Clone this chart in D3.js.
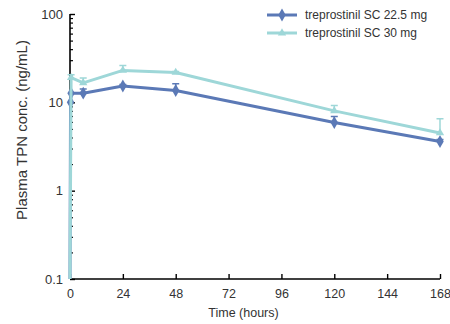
<!DOCTYPE html>
<html>
<head>
<meta charset="utf-8">
<script src="https://cdn.jsdelivr.net/npm/d3@7"></script>
<style>
	body { margin: 0; background: #fff; }
	text { font-family: "Liberation Sans", Arial, sans-serif; fill: #333; }
</style>
</head>
<body>
<svg id="pk_chart"></svg>
<script>
// time points (hours) and concentrations (ng/mL)
var times_low = [0, 0.25, 0.5, 6, 24, 48, 120, 168];
var conc_low = [0.1, 10, 12.7, 12.7, 15.3, 13.6, 5.9, 3.6];
var err_low = [0.1, 10, 12.7, 14.2, 15.9, 16.2, 6.9, 3.8];

var times_high = [0, 0.5, 6, 24, 48, 120, 168];
var conc_high = [0.1, 19, 16.6, 23, 21.8, 8.0, 4.5];
var err_high = [0.1, 20.5, 18.9, 26.2, 22.3, 9.2, 6.5];

var series_names = ["treprostinil SC 22.5 mg", "treprostinil SC 30 mg"];
var series_colors = ["#5b79b6", "#9ed7d8"];

var x_ticks = [0, 24, 48, 72, 96, 120, 144, 168];
var y_ticks = [0.1, 1, 10, 100];

function draw_chart(){
	var margin = {top: 14, right: 10, bottom: 45, left: 70},
		width = 450 - margin.left - margin.right,
		height = 324 - margin.top - margin.bottom;

	var svg = d3.select("#pk_chart")
		.attr("width", width + margin.left + margin.right)
		.attr("height", height + margin.top + margin.bottom)
		.append("g")
		.attr("transform", "translate(" + margin.left + "," + margin.top + ")");

	// set the ranges
	var x = d3.scaleLinear()
		.domain([0, 168])
		.range([0, width]);
	var y = d3.scaleLog()
		.domain([0.1, 100])
		.range([height, 0]);

	// minor log ticks (2..9 in each decade)
	var minor = y.ticks().filter(function(d) { return y_ticks.indexOf(d) < 0; });

	svg.append("g")
		.attr("class", "y_minor")
		.call(d3.axisRight(y).tickValues(minor).tickSize(3).tickFormat(""))
		.call(function(g) { g.select(".domain").remove(); })
		.selectAll("line").attr("stroke", "#000").attr("stroke-width", 1.2);

	// y axis, ticks pointing inward
	var yAxis = svg.append("g")
		.attr("class", "y_axis")
		.call(d3.axisRight(y).tickValues(y_ticks).tickSize(5).tickFormat(d3.format("")));
	yAxis.selectAll("text")
		.attr("x", -7)
		.attr("text-anchor", "end")
		.style("font-size", "13px");
	yAxis.select(".domain").attr("d", "M0,0V" + height).attr("stroke", "#000").attr("stroke-width", 1.6);
	yAxis.selectAll("line").attr("stroke-width", 1.4);

	// x axis, ticks pointing up
	var xAxis = svg.append("g")
		.attr("class", "x_axis")
		.attr("transform", "translate(0," + height + ")")
		.call(d3.axisTop(x).tickValues(x_ticks).tickSize(5));
	xAxis.selectAll("text")
		.attr("y", 19)
		.style("font-size", "12.5px");
	xAxis.select(".domain").attr("d", "M0,0H" + width).attr("stroke", "#000").attr("stroke-width", 1.6);
	xAxis.selectAll("line").attr("stroke-width", 1.4);

	var datasets = [
		{t: times_low, c: conc_low, e: err_low, marker: d3.symbolDiamond, size: 48},
		{t: times_high, c: conc_high, e: err_high, marker: d3.symbolTriangle, size: 30}
	];

	var line = d3.line()
		.x(function(d) { return x(d.t); })
		.y(function(d) { return y(d.c); });

	datasets.forEach(function(ds, i) {
		var pts = ds.t.map(function(t, k) { return {t: t, c: ds.c[k], e: ds.e[k]}; });
		var g = svg.append("g").attr("class", "series");
		var col = series_colors[i];

		// error bars (upper only)
		var eb = pts.filter(function(d) { return d.e > d.c; });
		g.selectAll(".err")
			.data(eb)
			.enter().append("path")
			.attr("fill", "none")
			.attr("stroke", col)
			.attr("stroke-width", 1.5)
			.attr("d", function(d) {
				var px = x(d.t), py = y(d.c), pe = y(d.e);
				return "M" + px + "," + py + "V" + pe + "M" + (px - 3.5) + "," + pe + "H" + (px + 3.5);
			});

		g.append("path")
			.datum(pts)
			.attr("fill", "none")
			.attr("stroke", col)
			.attr("stroke-width", 3)
			.attr("stroke-linejoin", "round")
			.attr("d", line);

		g.selectAll(".marker")
			.data(pts.filter(function(d) { return d.c > 0.1; }))
			.enter().append("path")
			.attr("fill", col)
			.attr("transform", function(d) { return "translate(" + x(d.t) + "," + y(d.c) + ")"; })
			.attr("d", d3.symbol().type(ds.marker).size(ds.size));
	});

	// legend
	var legend = svg.append("g")
		.attr("transform", "translate(197,1)");
	series_names.forEach(function(name, i) {
		var row = legend.append("g").attr("transform", "translate(0," + (i * 18) + ")");
		row.append("line")
			.attr("x1", 0).attr("x2", 30)
			.attr("stroke", series_colors[i])
			.attr("stroke-width", 3);
		row.append("path")
			.attr("fill", series_colors[i])
			.attr("transform", "translate(15,0)")
			.attr("d", d3.symbol().type(datasets[i].marker).size(datasets[i].size));
		row.append("text")
			.attr("x", 38)
			.attr("dy", "0.35em")
			.style("font-size", "12px")
			.text(name);
	});

	// axis labels
	svg.append("text")
		.attr("transform", "rotate(-90)")
		.attr("x", -116)
		.attr("y", -43)
		.attr("text-anchor", "middle")
		.style("font-size", "15px")
		.text("Plasma TPN conc. (ng/mL)");

	svg.append("text")
		.attr("x", 173.5)
		.attr("y", height + 38)
		.attr("text-anchor", "middle")
		.style("font-size", "12.5px")
		.text("Time (hours)");
}

draw_chart();
</script>
</body>
</html>
